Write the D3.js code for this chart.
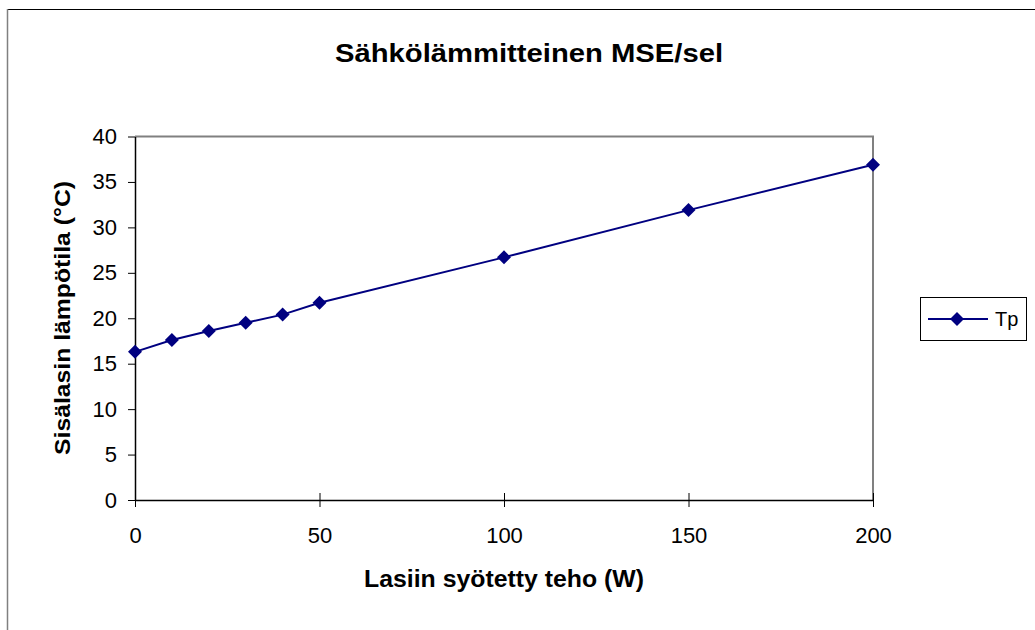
<!DOCTYPE html>
<html>
<head>
<meta charset="utf-8">
<script src="https://cdn.jsdelivr.net/npm/d3@7"></script>
<style>
html,body{margin:0;padding:0;background:#fff;}
svg{display:block;font-family:"Liberation Sans",Arial,sans-serif;}
</style>
</head>
<body>
<svg id="chart" width="1035" height="630"></svg>
<script>
const powerW = [0, 10, 20, 30, 40, 50, 100, 150, 200];
const tpValues = [16.3, 17.6, 18.6, 19.5, 20.4, 21.7, 26.7, 31.9, 36.9];
const xTicks = [0, 50, 100, 150, 200];
const yTicks = [0, 5, 10, 15, 20, 25, 30, 35, 40];
const seriesName = "Tp";
const titleText = "Sähkölämmitteinen MSE/sel";
const xTitle = "Lasiin syötetty teho (W)";
const yTitle = "Sisälasin lämpötila (°C)";

const svg = d3.select("#chart");
const color = "#000080";
const FF = "Liberation Sans, Arial, sans-serif";
const L = 135, R = 873, T = 136.5, B = 500;

// outer chart border (clipped by canvas on right/bottom)
svg.append("line").attr("x1", 7).attr("x2", 1035).attr("y1", 9.5).attr("y2", 9.5)
  .attr("stroke", "#000").attr("stroke-width", 1.2);
svg.append("line").attr("x1", 7.5).attr("x2", 7.5).attr("y1", 9).attr("y2", 630)
  .attr("stroke", "#808080").attr("stroke-width", 1.5);

const x = d3.scaleLinear().domain([0, 200]).range([L, R]);
const y = d3.scaleLinear().domain([0, 40]).range([B, T]);

// plot area top/right borders (gray)
svg.append("path")
  .attr("d", `M${L},${T}H${R}V${B}`)
  .attr("fill", "none").attr("stroke", "#808080").attr("stroke-width", 2);

// y axis
const yAxis = d3.axisLeft(y).tickValues(yTicks).tickSize(7).tickPadding(11).tickSizeOuter(0);
const gy = svg.append("g").attr("transform", `translate(${L},0)`).call(yAxis);
gy.select(".domain").attr("stroke", "#000").attr("stroke-width", 1.5);
gy.selectAll(".tick line").attr("stroke", "#000").attr("stroke-width", 1);
gy.selectAll(".tick text").attr("font-size", 22).attr("fill", "#000")
  .attr("font-family", FF);

// x axis (ticks crossing)
const xAxis = d3.axisBottom(x).tickValues(xTicks).tickSize(0).tickPadding(27).tickSizeOuter(0);
const gx = svg.append("g").attr("transform", `translate(0,${B})`).call(xAxis);
gx.select(".domain").attr("stroke", "#000").attr("stroke-width", 1.5);
gx.selectAll(".tick text").attr("font-size", 22).attr("fill", "#000")
  .attr("font-family", FF);
gx.selectAll(".tick").append("line").attr("y1", -7).attr("y2", 7)
  .attr("stroke", "#000").attr("stroke-width", 1);

// line
const line = d3.line().x((d, i) => x(powerW[i])).y(d => y(d));
svg.append("path").datum(tpValues).attr("d", line)
  .attr("fill", "none").attr("stroke", color).attr("stroke-width", 2);

// markers
const diamond = "M0,-7L7,0L0,7L-7,0Z";
svg.selectAll(".pt").data(tpValues).join("path")
  .attr("class", "pt")
  .attr("transform", (d, i) => `translate(${x(powerW[i])},${y(d)})`)
  .attr("d", diamond).attr("fill", color);

// title
svg.append("text").attr("x", 529).attr("y", 62).attr("text-anchor", "middle")
  .attr("font-family", FF).attr("font-size", 26).attr("font-weight", "bold")
  .attr("textLength", 388).attr("lengthAdjust", "spacingAndGlyphs").text(titleText);

// axis titles
svg.append("text").attr("x", 504).attr("y", 587).attr("text-anchor", "middle")
  .attr("font-family", FF).attr("font-size", 23).attr("font-weight", "bold")
  .attr("textLength", 280).attr("lengthAdjust", "spacingAndGlyphs").text(xTitle);
svg.append("text").attr("transform", `translate(70,318) rotate(-90)`).attr("text-anchor", "middle")
  .attr("font-family", FF).attr("font-size", 22).attr("font-weight", "bold")
  .attr("textLength", 274).attr("lengthAdjust", "spacingAndGlyphs").text(yTitle);

// legend
const lg = svg.append("g");
lg.append("rect").attr("x", 920.5).attr("y", 297.5).attr("width", 106).attr("height", 43)
  .attr("fill", "#fff").attr("stroke", "#000").attr("stroke-width", 1);
lg.append("line").attr("x1", 928).attr("x2", 988).attr("y1", 319).attr("y2", 319)
  .attr("stroke", color).attr("stroke-width", 2);
lg.append("path").attr("transform", "translate(957,319)").attr("d", diamond).attr("fill", color);
lg.append("text").attr("x", 995).attr("y", 326).attr("font-family", FF).attr("font-size", 20).text(seriesName);
</script>
</body>
</html>
